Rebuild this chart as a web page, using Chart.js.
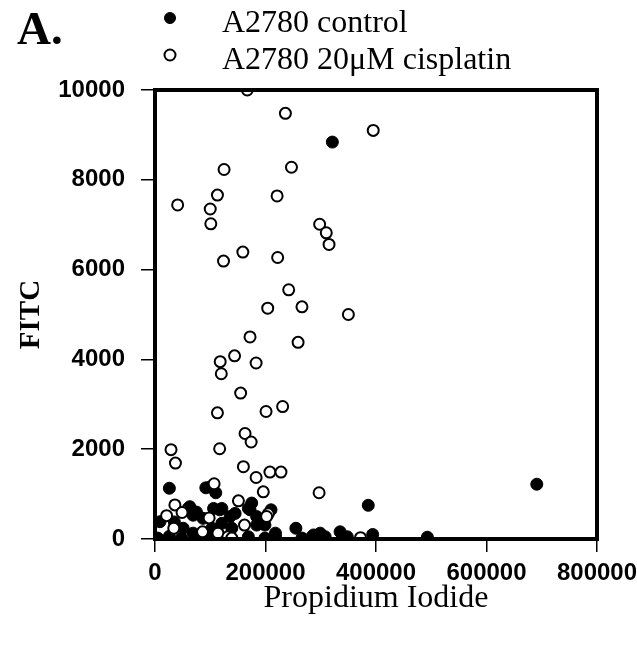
<!DOCTYPE html>
<html>
<head>
<meta charset="utf-8">
<title>A2780 FITC vs Propidium Iodide</title>
<script src="https://cdn.jsdelivr.net/npm/chart.js@4.4.1/dist/chart.umd.min.js"></script>
<style>
    html, body { margin: 0; padding: 0; background: #fff; }
    #wrap { width: 637px; height: 648px; }
</style>
</head>
<body>
<div id="wrap"><canvas id="scatterChart" width="637" height="648"></canvas></div>
<script>
// Data: [propidium iodide, FITC]
const controlLabel = 'A2780 control';
const cisplatinLabel = 'A2780 20\u03bcM cisplatin';

const controlPoints = [
    [5000, 20], [9000, 385], [26000, 1130], [26000, 60], [35000, 380], [48000, 20],
    [51000, 240], [60000, 680], [63000, 720], [69000, 530], [69000, 130], [75000, 600],
    [87000, 460], [92000, 1140], [100000, 1160], [100000, 50], [103000, 240], [106000, 680],
    [110000, 1030], [112000, 20], [115000, 90], [117000, 650], [121000, 680], [121000, 350],
    [136000, 500], [139000, 240], [145000, 570], [169000, 680], [169000, 50], [172000, 650],
    [175000, 800], [184000, 500], [184000, 310], [199000, 310], [199000, 20], [210000, 650],
    [218000, 130], [218000, 60], [255000, 240], [266000, 20], [284000, 50], [287000, 90],
    [299000, 130], [308000, 50], [321000, 8840], [335000, 160], [348000, 50], [386000, 750],
    [394000, 100], [493000, 40], [691000, 1220]
];

const cisplatinPoints = [
    [167000, 10000], [236000, 9480], [395000, 9100], [125000, 8230], [247000, 8280],
    [113000, 7660], [221000, 7640], [41000, 7440], [100000, 7350], [101000, 7020],
    [298000, 7010], [310000, 6820], [315000, 6560], [159000, 6390], [124000, 6190],
    [222000, 6270], [242000, 5550], [204000, 5140], [266000, 5170], [350000, 5000],
    [172000, 4500], [259000, 4380], [144000, 4080], [118000, 3950], [183000, 3920],
    [120000, 3680], [155000, 3250], [113000, 2810], [201000, 2840], [231000, 2950],
    [163000, 2350], [174000, 2160], [29000, 1990], [37000, 1690], [117000, 2010],
    [160000, 1610], [183000, 1370], [208000, 1490], [228000, 1490], [107000, 1230],
    [196000, 1050], [297000, 1030], [151000, 850], [36000, 760], [49000, 590],
    [21000, 520], [98000, 470], [205000, 560], [202000, 500], [162000, 310],
    [34000, 240], [86000, 160], [114000, 130], [132000, 50], [139000, 20], [372000, 30]
];

const xTicks = [0, 200000, 400000, 600000, 800000];
const yTicks = [0, 2000, 4000, 6000, 8000, 10000];

const toXY = pts => pts.map(p => ({ x: p[0], y: p[1] }));

// Frame round the plot area plus the legend and panel letter at the top
const framePlugin = {
    id: 'frameAndLegend',
    afterDatasetsDraw(chart) {
        const ctx = chart.ctx;
        const a = chart.chartArea;
        ctx.save();
        ctx.strokeStyle = '#000';
        ctx.lineWidth = 4;
        ctx.strokeRect(a.left, a.top, a.right - a.left, a.bottom - a.top);

        // panel letter
        ctx.fillStyle = '#000';
        ctx.textBaseline = 'alphabetic';
        ctx.font = 'bold 47px "Liberation Serif"';
        ctx.fillText('A.', 17, 44);

        // legend rows
        ctx.font = '32px "Liberation Serif"';
        const rows = [
            { label: chart.data.datasets[0].label, y: 18, ds: chart.data.datasets[0] },
            { label: chart.data.datasets[1].label, y: 55, ds: chart.data.datasets[1] }
        ];
        rows.forEach(r => {
            ctx.beginPath();
            ctx.arc(170, r.y, 5.5, 0, Math.PI * 2);
            ctx.fillStyle = r.ds.backgroundColor;
            ctx.fill();
            ctx.lineWidth = r.ds.borderWidth;
            ctx.strokeStyle = r.ds.borderColor;
            ctx.stroke();
            ctx.fillStyle = '#000';
            ctx.fillText(r.label, 222, r.y + 14);
        });
        ctx.restore();
    }
};

new Chart(document.getElementById('scatterChart'), {
    type: 'scatter',
    data: {
        datasets: [{
            label: controlLabel,
            data: toXY(controlPoints),
            backgroundColor: '#000',
            borderColor: '#000',
            borderWidth: 1,
            pointRadius: 6,
            order: 1
        }, {
            label: cisplatinLabel,
            data: toXY(cisplatinPoints),
            backgroundColor: '#fff',
            borderColor: '#000',
            borderWidth: 2,
            pointRadius: 5.5,
            order: 0
        }]
    },
    options: {
        responsive: false,
        animation: false,
        layout: { padding: { top: 90, right: 40, left: 0, bottom: 0 } },
        plugins: {
            legend: { display: false },
            tooltip: { enabled: false }
        },
        scales: {
            x: {
                type: 'linear',
                min: 0,
                max: 800000,
                afterBuildTicks: scale => { scale.ticks = xTicks.map(v => ({ value: v })); },
                afterFit: scale => {
                    scale.height = 109;
                    scale.paddingLeft = 0;
                    scale.paddingRight = 0;
                },
                grid: { drawOnChartArea: false, tickLength: 13, lineWidth: 1.5, color: '#000' },
                border: { display: false },
                ticks: {
                    color: '#000',
                    padding: 7,
                    maxRotation: 0,
                    font: { family: '"Liberation Sans"', size: 24, weight: 'bold' },
                    callback: v => String(v)
                },
                title: {
                    display: true,
                    text: 'Propidium Iodide',
                    color: '#000',
                    font: { family: '"Liberation Serif"', size: 32 },
                    padding: { top: 0, bottom: 30 }
                }
            },
            y: {
                type: 'linear',
                min: 0,
                max: 10000,
                afterBuildTicks: scale => { scale.ticks = yTicks.map(v => ({ value: v })); },
                afterFit: scale => {
                    scale.width = 155;
                    scale.paddingTop = 0;
                    scale.paddingBottom = 0;
                },
                grid: { drawOnChartArea: false, tickLength: 14, lineWidth: 1.5, color: '#000' },
                border: { display: false },
                ticks: {
                    color: '#000',
                    padding: 16,
                    font: { family: '"Liberation Sans"', size: 24, weight: 'bold' },
                    callback: v => String(v)
                },
                title: {
                    display: true,
                    text: 'FITC',
                    color: '#000',
                    font: { family: '"Liberation Serif"', size: 29, weight: 'bold' },
                    padding: { top: 14, bottom: 0 }
                }
            }
        }
    },
    plugins: [framePlugin]
});
</script>
</body>
</html>
